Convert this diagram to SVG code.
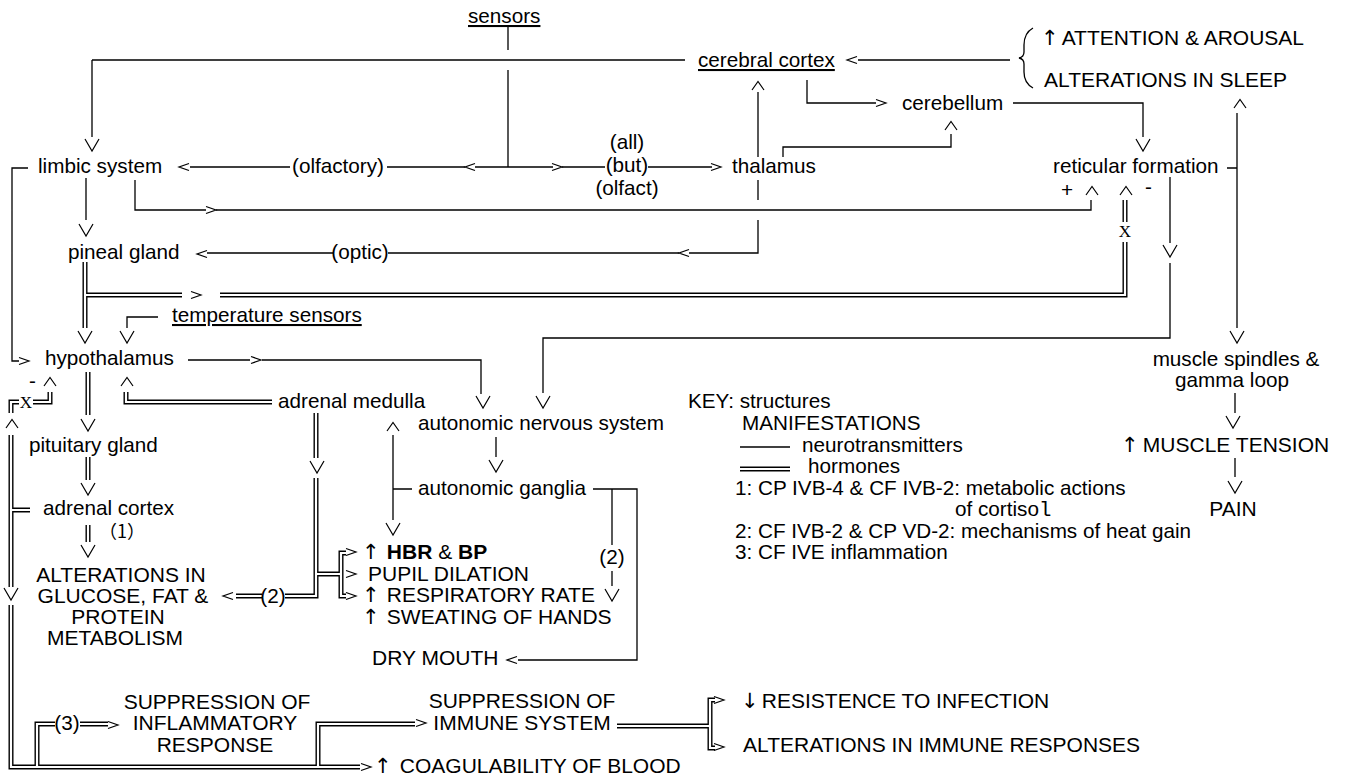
<svg xmlns="http://www.w3.org/2000/svg" xmlns:xlink="http://www.w3.org/1999/xlink" width="1345" height="778" viewBox="0 0 1345 778">
<style>
.t{font-family:"Liberation Sans",Arial,sans-serif;font-size:20.7px;fill:#000}
.cap{font-size:21px}
.m{text-anchor:middle}
.b{font-weight:bold}
.u{text-decoration:underline}
.arw{font-family:"DejaVu Sans",sans-serif;font-size:21px;fill:#000}
.x{font-family:"Liberation Serif","Times New Roman",serif;font-size:17px;fill:#000;text-anchor:middle}
.mono{font-family:"Liberation Mono","Courier New",monospace}
.cjk{font-family:"Noto Sans CJK SC","Noto Sans CJK JP",sans-serif;font-size:18px;fill:#000}
.ln{fill:none;stroke:#000;stroke-width:1.3}
.ah{fill:none;stroke:#000;stroke-width:1.2}
.dk{fill:none;stroke:#000;stroke-width:5}
.dw{fill:none;stroke:#fff;stroke-width:2.2}
</style>
<defs>
<path id="ad" d="M-7,-6 L0,6 L7,-6"/>
<path id="au" d="M-6,4 L0,-4.5 L6,4"/>
<path id="ar" d="M-5,-3.5 L5,0 L-5,3.5"/>
<path id="al" d="M5,-3.5 L-5,0 L5,3.5"/>
<path id="dbl" d="M85,262 V328 M85,295 H182 M220,295 H1125 V242 M1125,222 V200 M88,372 V415 M50,392 V402 H33 M19,402 H11 V413 M11,435 V587 M11,605 V767 H360 M11,510 H30 M37,767 V724 H55 M80,724 H108 M318,767 V724 H415 M126,392 V402 H272 M316,413 V458 M316,478 V596 H285 M262,596 H236 M316,574 H341 M346,553 H341 V596 H346 M88,457 V480 M88,525 V542 M617,726 H710 M715,700 H710 V748 H715 M740,469 H790"/>
</defs>
<rect width="1345" height="778" fill="#fff"/>
<g id="connectors">
<path class="ln" d="M508,27 V50 M508,70 V167 M92,60 H685 M92,60 V137 M190,167 H290 M387,167 H465 M475,167 H553 M562,167 H605 M648,167 H712 M858,60 H1010 M807,80 V103 H876 M1013,103 H1143 V137 M783,157 V147 H951 V134 M758,92 V157 M758,180 V200 M758,220 V253 H689 M679,253 H388 M333,253 H207 M135,180 V210 H206 M216,210 H1091 V200 M86,178 V220 M28,168 H12 V361 H19 M158,317 H127 V328 M188,360 H250 M262,360 H481 V394 M1170,177 V243 M1170,263 V338 H543 V393 M1227,168 H1237 M1237,113 V328 M1235,393 V413 M1235,458 V477 M496,437 V457 M393,435 V520 M393,489 H412 M593,489 H637 V660 H518 M612,489 V545 M612,571 V586"/>
<use href="#dbl" class="dk"/>
<use href="#dbl" class="dw"/>
<path class="ln" d="M1033,28 Q1024,33 1024,45 L1024,52 Q1024,57 1019,58 Q1024,59 1024,64 L1024,72 Q1024,83 1033,88"/>
<g class="ah">
<use href="#ad" x="92" y="145"/><use href="#ad" x="86" y="230"/><use href="#ad" x="85" y="337"/><use href="#ad" x="127" y="337"/><use href="#ad" x="483" y="402"/><use href="#ad" x="543" y="402"/><use href="#ad" x="1143" y="145"/><use href="#ad" x="1170" y="251"/><use href="#ad" x="1237" y="337"/><use href="#ad" x="1233" y="422"/><use href="#ad" x="1235" y="487"/><use href="#ad" x="496" y="466"/><use href="#ad" x="88" y="425"/><use href="#ad" x="88" y="489"/><use href="#ad" x="88" y="551"/><use href="#ad" x="11" y="594"/><use href="#ad" x="317" y="467"/><use href="#ad" x="393" y="529"/><use href="#ad" x="612" y="595"/>
<use href="#au" x="758" y="86"/><use href="#au" x="951" y="126"/><use href="#au" x="1092" y="191"/><use href="#au" x="1126" y="191"/><use href="#au" x="1240" y="104"/><use href="#au" x="50" y="382"/><use href="#au" x="127" y="382"/><use href="#au" x="12" y="424"/><use href="#au" x="393" y="427"/>
<use href="#ar" x="557" y="167"/><use href="#ar" x="716" y="167"/><use href="#ar" x="881" y="103"/><use href="#ar" x="211" y="210"/><use href="#ar" x="24" y="361"/><use href="#ar" x="196" y="295"/><use href="#ar" x="256" y="360"/><use href="#ar" x="366" y="767"/><use href="#ar" x="113" y="725"/><use href="#ar" x="421" y="723"/><use href="#ar" x="351" y="552"/><use href="#ar" x="351" y="574"/><use href="#ar" x="351" y="596"/><use href="#ar" x="719" y="700"/><use href="#ar" x="719" y="747"/>
<use href="#al" x="184" y="167"/><use href="#al" x="470" y="167"/><use href="#al" x="852" y="60"/><use href="#al" x="684" y="253"/><use href="#al" x="202" y="254"/><use href="#al" x="228" y="596"/><use href="#al" x="512" y="660"/>
</g>
<text class="t m" x="338" y="173">(olfactory)</text>
<text class="t m" x="627" y="149">(all)</text>
<text class="t m" x="627" y="172">(but)</text>
<text class="t m" x="627" y="195">(olfact)</text>
<text class="t m" x="360" y="259">(optic)</text>
<text class="t m" x="273" y="603">(2)</text>
<text class="t m" x="612" y="564">(2)</text>
<text class="t m" x="67" y="730">(3)</text>
<text class="cjk" x="99" y="538">（1）</text>
<text class="x" x="1125" y="237">X</text>
<text class="x" x="26" y="408">X</text>
<text class="t" x="1061" y="197">+</text>
<text class="t" x="1145" y="194">-</text>
<text class="t" x="29" y="388">-</text>
</g>
<g id="sensors"><text class="t u" x="468" y="23">sensors</text></g>
<g id="cerebral-cortex"><text class="t u" x="698" y="67">cerebral cortex</text></g>
<g id="attention"><text class="t cap" y="45"><tspan class="arw" x="1041">↑</tspan><tspan x="1057"> ATTENTION &amp; AROUSAL</tspan></text></g>
<g id="sleep"><text class="t cap" x="1044" y="87">ALTERATIONS IN SLEEP</text></g>
<g id="cerebellum"><text class="t" x="902" y="110">cerebellum</text></g>
<g id="limbic-system"><text class="t" x="38" y="173">limbic system</text></g>
<g id="thalamus"><text class="t" x="732" y="173">thalamus</text></g>
<g id="reticular-formation"><text class="t" x="1053" y="173">reticular formation</text></g>
<g id="pineal-gland"><text class="t" x="68" y="259">pineal gland</text></g>
<g id="temperature-sensors"><text class="t u" x="172" y="322">temperature sensors</text></g>
<g id="hypothalamus"><text class="t" x="45" y="365">hypothalamus</text></g>
<g id="muscle-spindles"><text class="t m" x="1236" y="366">muscle spindles &amp;</text><text class="t m" x="1232" y="387">gamma loop</text></g>
<g id="adrenal-medulla"><text class="t" x="278" y="408">adrenal medulla</text></g>
<g id="ans"><text class="t" x="418" y="430">autonomic nervous system</text></g>
<g id="pituitary-gland"><text class="t" x="29" y="452">pituitary gland</text></g>
<g id="muscle-tension"><text class="t cap" y="452"><tspan class="arw" x="1121">↑</tspan><tspan x="1137"> MUSCLE TENSION</tspan></text></g>
<g id="autonomic-ganglia"><text class="t" x="418" y="495">autonomic ganglia</text></g>
<g id="adrenal-cortex"><text class="t" x="43" y="515">adrenal cortex</text></g>
<g id="pain"><text class="t cap m" x="1233" y="516">PAIN</text></g>
<g id="key">
<text class="t" x="688" y="408">KEY: structures</text>
<text class="t" x="742" y="430">MANIFESTATIONS</text>
<path class="ln" d="M740,447 H790"/>
<text class="t" x="802" y="452">neurotransmitters</text>
<text class="t" x="808" y="473">hormones</text>
<text class="t" x="735" y="495">1: CP IVB-4 &amp; CF IVB-2: metabolic actions</text>
<text class="t" x="955" y="516">of cortiso<tspan class="mono">l</tspan></text>
<text class="t" x="735" y="538">2: CF IVB-2 &amp; CP VD-2: mechanisms of heat gain</text>
<text class="t" x="735" y="559">3: CF IVE inflammation</text>
</g>
<g id="metabolism">
<text class="t cap m" x="121" y="582">ALTERATIONS IN</text>
<text class="t cap m" x="123" y="603">GLUCOSE, FAT &amp;</text>
<text class="t cap m" x="118" y="624">PROTEIN</text>
<text class="t cap m" x="115" y="645">METABOLISM</text>
</g>
<g id="hbr-bp"><text class="t cap" y="559"><tspan class="arw" x="362">↑</tspan><tspan x="381"> <tspan class="b">HBR</tspan> &amp; <tspan class="b">BP</tspan></tspan></text></g>
<g id="pupil"><text class="t cap" x="368" y="581">PUPIL DILATION</text></g>
<g id="respiratory"><text class="t cap" y="602"><tspan class="arw" x="362">↑</tspan><tspan x="381"> RESPIRATORY RATE</tspan></text></g>
<g id="sweating"><text class="t cap" y="624"><tspan class="arw" x="362">↑</tspan><tspan x="381"> SWEATING OF HANDS</tspan></text></g>
<g id="dry-mouth"><text class="t cap" x="372" y="665">DRY MOUTH</text></g>
<g id="inflammatory">
<text class="t cap m" x="217" y="709">SUPPRESSION OF</text>
<text class="t cap m" x="215" y="730">INFLAMMATORY</text>
<text class="t cap m" x="215" y="752">RESPONSE</text>
</g>
<g id="immune">
<text class="t cap m" x="522" y="708">SUPPRESSION OF</text>
<text class="t cap m" x="522" y="730">IMMUNE SYSTEM</text>
</g>
<g id="resistance"><text class="t cap" y="708"><tspan class="arw" x="741">↓</tspan><tspan x="756"> RESISTENCE TO INFECTION</tspan></text></g>
<g id="immune-responses"><text class="t cap" x="743" y="752">ALTERATIONS IN IMMUNE RESPONSES</text></g>
<g id="coagulability"><text class="t cap" y="773"><tspan class="arw" x="374">↑</tspan><tspan x="394"> COAGULABILITY OF BLOOD</tspan></text></g>
</svg>
